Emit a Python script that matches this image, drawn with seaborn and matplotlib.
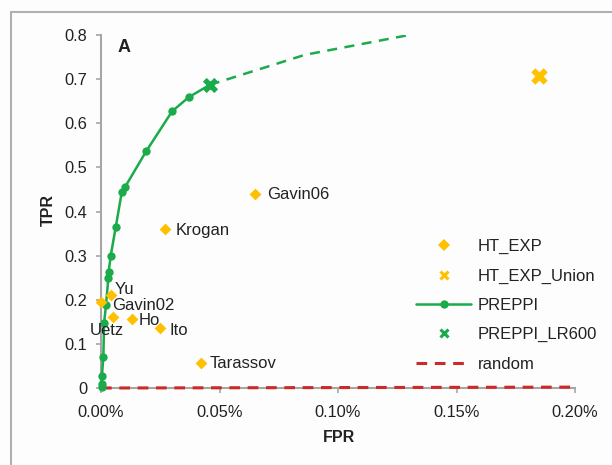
import matplotlib
matplotlib.use("Agg")
import matplotlib.pyplot as plt
import seaborn as sns
import pandas as pd
from matplotlib.lines import Line2D
from matplotlib.patches import Rectangle
from matplotlib.ticker import FuncFormatter

# ---------------- data (FPR in %, TPR as fraction) ----------------
preppi_fpr = [0.0003, 0.0003, 0.0004, 0.0010, 0.0013, 0.0021, 0.0031, 0.0032,
              0.0041, 0.0062, 0.0088, 0.0101, 0.0190, 0.0300, 0.0370, 0.0459]
preppi_tpr = [0.003, 0.009, 0.028, 0.071, 0.147, 0.188, 0.249, 0.262,
              0.300, 0.364, 0.445, 0.455, 0.536, 0.627, 0.659, 0.687]

preppi_ext_fpr = [0.0459, 0.086, 0.130]
preppi_ext_tpr = [0.687, 0.755, 0.800]

lr600_fpr = [0.0459]
lr600_tpr = [0.687]

ht_names = ["Gavin06", "Krogan", "Yu", "Gavin02", "Uetz", "Ho", "Ito", "Tarassov"]
ht_fpr = [0.0649, 0.0272, 0.0041, 0.0000, 0.0049, 0.0132, 0.0251, 0.0423]
ht_tpr = [0.439, 0.360, 0.211, 0.194, 0.162, 0.156, 0.135, 0.056]

union_fpr = [0.1846]
union_tpr = [0.707]

random_fpr = [0.0, 0.2]
random_tpr = [0.0, 0.002]

x_ticks = [0.00, 0.05, 0.10, 0.15, 0.20]
y_ticks = [0, 0.1, 0.2, 0.3, 0.4, 0.5, 0.6, 0.7, 0.8]

# label offsets in pixels (style only)
label_offsets = {
    "Gavin06": (12, 0, "left"),
    "Krogan": (10.6, -1.4, "left"),
    "Yu": (4, 5, "left"),
    "Gavin02": (10.7, -3.4, "left"),
    "Uetz": (-5.4, -14.3, "center"),
    "Ho": (6.7, -1, "left"),
    "Ito": (8.6, -1.7, "left"),
    "Tarassov": (8.7, -0.7, "left"),
}

# ---------------- style ----------------
sns.set_style("white")
plt.rcParams["font.family"] = ["Liberation Sans", "DejaVu Sans"]
TXT = "#222222"
GREEN = "#1aab4b"
ORANGE = "#FFC000"
RED = "#cc2929"
SPINE = "#a6a6a6"
FS = 12

fig = plt.figure(figsize=(6.12, 4.65), dpi=100, facecolor="#fdfdfd")
fig.patches.append(Rectangle((11 / 612, -0.1), 1.2, 1 - 12 / 465 + 0.1,
                             transform=fig.transFigure, fill=False,
                             edgecolor="#b0b0b0", linewidth=1.5, zorder=0))
ax = fig.add_axes([101 / 612, 1 - 388 / 465, 474 / 612, 353 / 465])
ax.set_facecolor("none")

# random line
sns.lineplot(x=random_fpr, y=random_tpr, ax=ax, color=RED, linestyle=(0, (3.5, 2.5)),
             linewidth=2.2, estimator=None, sort=False, zorder=3.5, clip_on=False)

# PREPPI solid line with markers
df_p = pd.DataFrame({"FPR": preppi_fpr, "TPR": preppi_tpr})
sns.lineplot(data=df_p, x="FPR", y="TPR", ax=ax, color=GREEN, linewidth=1.8,
             marker="o", markersize=6, markeredgewidth=0, estimator=None,
             sort=False, zorder=4, clip_on=False)

# PREPPI extrapolated dashed
sns.lineplot(x=preppi_ext_fpr, y=preppi_ext_tpr, ax=ax, color=GREEN,
             linestyle=(0, (4, 3)), linewidth=1.8, estimator=None, sort=False,
             zorder=3)

# PREPPI_LR600
sns.scatterplot(x=lr600_fpr, y=lr600_tpr, ax=ax, marker="X", s=120,
                color=GREEN, linewidth=0, zorder=5)

# HT_EXP
sns.scatterplot(x=ht_fpr, y=ht_tpr, ax=ax, marker="D", s=36, color=ORANGE,
                linewidth=0, zorder=6, clip_on=False)

# HT_EXP_Union
sns.scatterplot(x=union_fpr, y=union_tpr, ax=ax, marker="X", s=140,
                color=ORANGE, linewidth=0, zorder=6)

for name, fx, ty in zip(ht_names, ht_fpr, ht_tpr):
    dx, dy, ha = label_offsets[name]
    ax.annotate(name, (fx, ty), xytext=(dx, dy), textcoords="offset pixels",
                ha=ha, va="center", fontsize=FS, color=TXT, zorder=7)

# axes
ax.set_xlim(0, 0.2)
ax.set_ylim(0, 0.8)
ax.set_xticks(x_ticks)
ax.set_yticks(y_ticks)
ax.xaxis.set_major_formatter(FuncFormatter(lambda v, p: f"{v:.2f}%"))
ax.yaxis.set_major_formatter(FuncFormatter(lambda v, p: "0" if abs(v) < 1e-9 else f"{v:.1f}"))
for s in ["top", "right"]:
    ax.spines[s].set_visible(False)
for s in ["left", "bottom"]:
    ax.spines[s].set_color(SPINE)
    ax.spines[s].set_linewidth(1.5)
ax.tick_params(axis="both", which="major", direction="out", length=3.5,
               width=1.2, color=SPINE, labelsize=FS - 0.2, labelcolor=TXT,
               bottom=True, left=True)
ax.tick_params(axis="x", pad=9)
ax.tick_params(axis="y", pad=6.5)

ax.set_xlabel("FPR", fontsize=11.5, fontweight="bold", color=TXT)
ax.set_ylabel("TPR", fontsize=11.5, fontweight="bold", color=TXT)
ax.xaxis.set_label_coords((339 - 101) / 474, (388 - 437) / 353)
ax.xaxis.label.set_va("center")
ax.yaxis.set_label_coords((48 - 101) / 474, (388 - 210) / 353)
ax.yaxis.label.set_va("center")

ax.text((124 - 101) / 474, (388 - 47) / 353, "A", transform=ax.transAxes,
        fontsize=13, fontweight="bold", color=TXT, ha="center", va="center")

handles = [
    Line2D([], [], linestyle="none", marker="D", markersize=6, color=ORANGE, markeredgewidth=0),
    Line2D([], [], linestyle="none", marker="x", markersize=6, color=ORANGE, markeredgewidth=2.2),
    Line2D([], [], color=GREEN, linewidth=1.8, marker="o", markersize=6, markeredgewidth=0),
    Line2D([], [], linestyle="none", marker="x", markersize=6, color=GREEN, markeredgewidth=2.2),
    Line2D([], [], color=RED, linewidth=2.2, linestyle=(0, (3.5, 2.5))),
]
labels = ["HT_EXP", "HT_EXP_Union", "PREPPI", "PREPPI_LR600", "random"]
leg = fig.legend(handles, labels, loc="upper left",
                 bbox_to_anchor=(416 / 612, 1 - 239 / 465), frameon=False,
                 fontsize=FS, handlelength=3.3, handletextpad=0.4,
                 labelspacing=0.86, borderpad=0, borderaxespad=0)
for t in leg.get_texts():
    t.set_color(TXT)

fig.savefig("out.png", dpi=100, facecolor=fig.get_facecolor())
